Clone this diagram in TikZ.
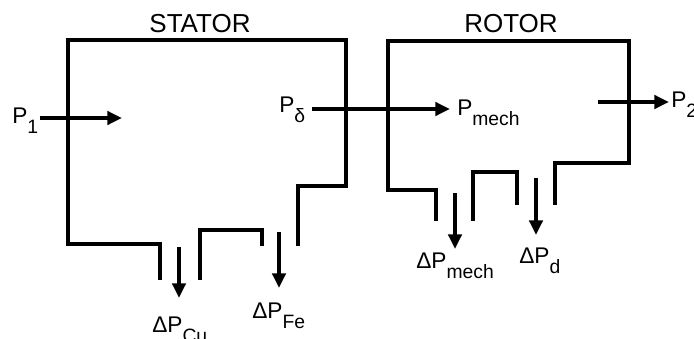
\documentclass[tikz,border=0pt]{standalone}
\usepackage{fontspec}
\setmainfont{Liberation Sans}
\usetikzlibrary{arrows.meta}

% Индекс, опущенный ниже базовой линии
\newcommand{\lowidx}[1]{\raisebox{-7.5pt}{\fontsize{14.5}{16}\selectfont #1}}

\begin{document}
\begin{tikzpicture}[x=0.75pt,y=-0.75pt,
        wall/.style={line width=2.6pt, line join=miter},
        flow/.style={line width=2.6pt, -{Triangle[length=11pt,width=10pt]}},
        lbl/.style={inner sep=0pt, anchor=base west, font=\fontsize{17}{19}\selectfont},
        title/.style={inner sep=0pt, anchor=base, font=\fontsize{19.5}{22}\selectfont}]

    \useasboundingbox (0,0) rectangle (694,339);

    % Статор
    \draw[wall] (160,280) -- (160,244) -- (68,244) -- (68,40) -- (346,40)
        -- (346,186) -- (298,186) -- (298,246);
    \draw[wall] (200,280) -- (200,230) -- (262,230) -- (262,246);
    \node[title] (stator) at (200,32) {STATOR};

    % Ротор
    \draw[wall] (436,221) -- (436,190) -- (388,190) -- (388,41) -- (629,41)
        -- (629,163) -- (555,163) -- (555,205);
    \draw[wall] (473,221) -- (473,172) -- (517,172) -- (517,205);
    \node[title] (rotor) at (511,32) {ROTOR};

    % Поток мощности
    \coordinate (inA) at (40,118);
    \coordinate (inB) at (122,118);
    \coordinate (gapA) at (312,109);
    \coordinate (gapB) at (450,109);
    \coordinate (outA) at (598,102);
    \coordinate (outB) at (669,102);
    \draw[flow] (inA) -- (inB);
    \draw[flow] (gapA) -- (gapB);
    \draw[flow] (outA) -- (outB);

    \node[lbl] (p1) at (12,123) {P\lowidx{1}};
    \node[lbl] (pdelta) at (279,113) {P\lowidx{δ}};
    \node[lbl] (pmech) at (457,115) {P\lowidx{mech}};
    \node[lbl] (p2) at (671,108) {P\lowidx{2}};

    % Потери
    \foreach \n/\x/\ya/\yb in {cu/179/247/298, fe/279/232/288,
                               mech/455/193/249, d/536/178/235}
    {
        \coordinate (\n top) at (\x,\ya);
        \coordinate (\n tip) at (\x,\yb);
        \draw[flow] (\n top) -- (\n tip);
    }

    \node[lbl] (dpcu) at (152,332) {ΔP\lowidx{Cu}};
    \node[lbl] (dpfe) at (252,318) {ΔP\lowidx{Fe}};
    \node[lbl] (dpmech) at (416,268) {ΔP\lowidx{mech}};
    \node[lbl] (dpd) at (519,263) {ΔP\lowidx{d}};
\end{tikzpicture}
\end{document}
